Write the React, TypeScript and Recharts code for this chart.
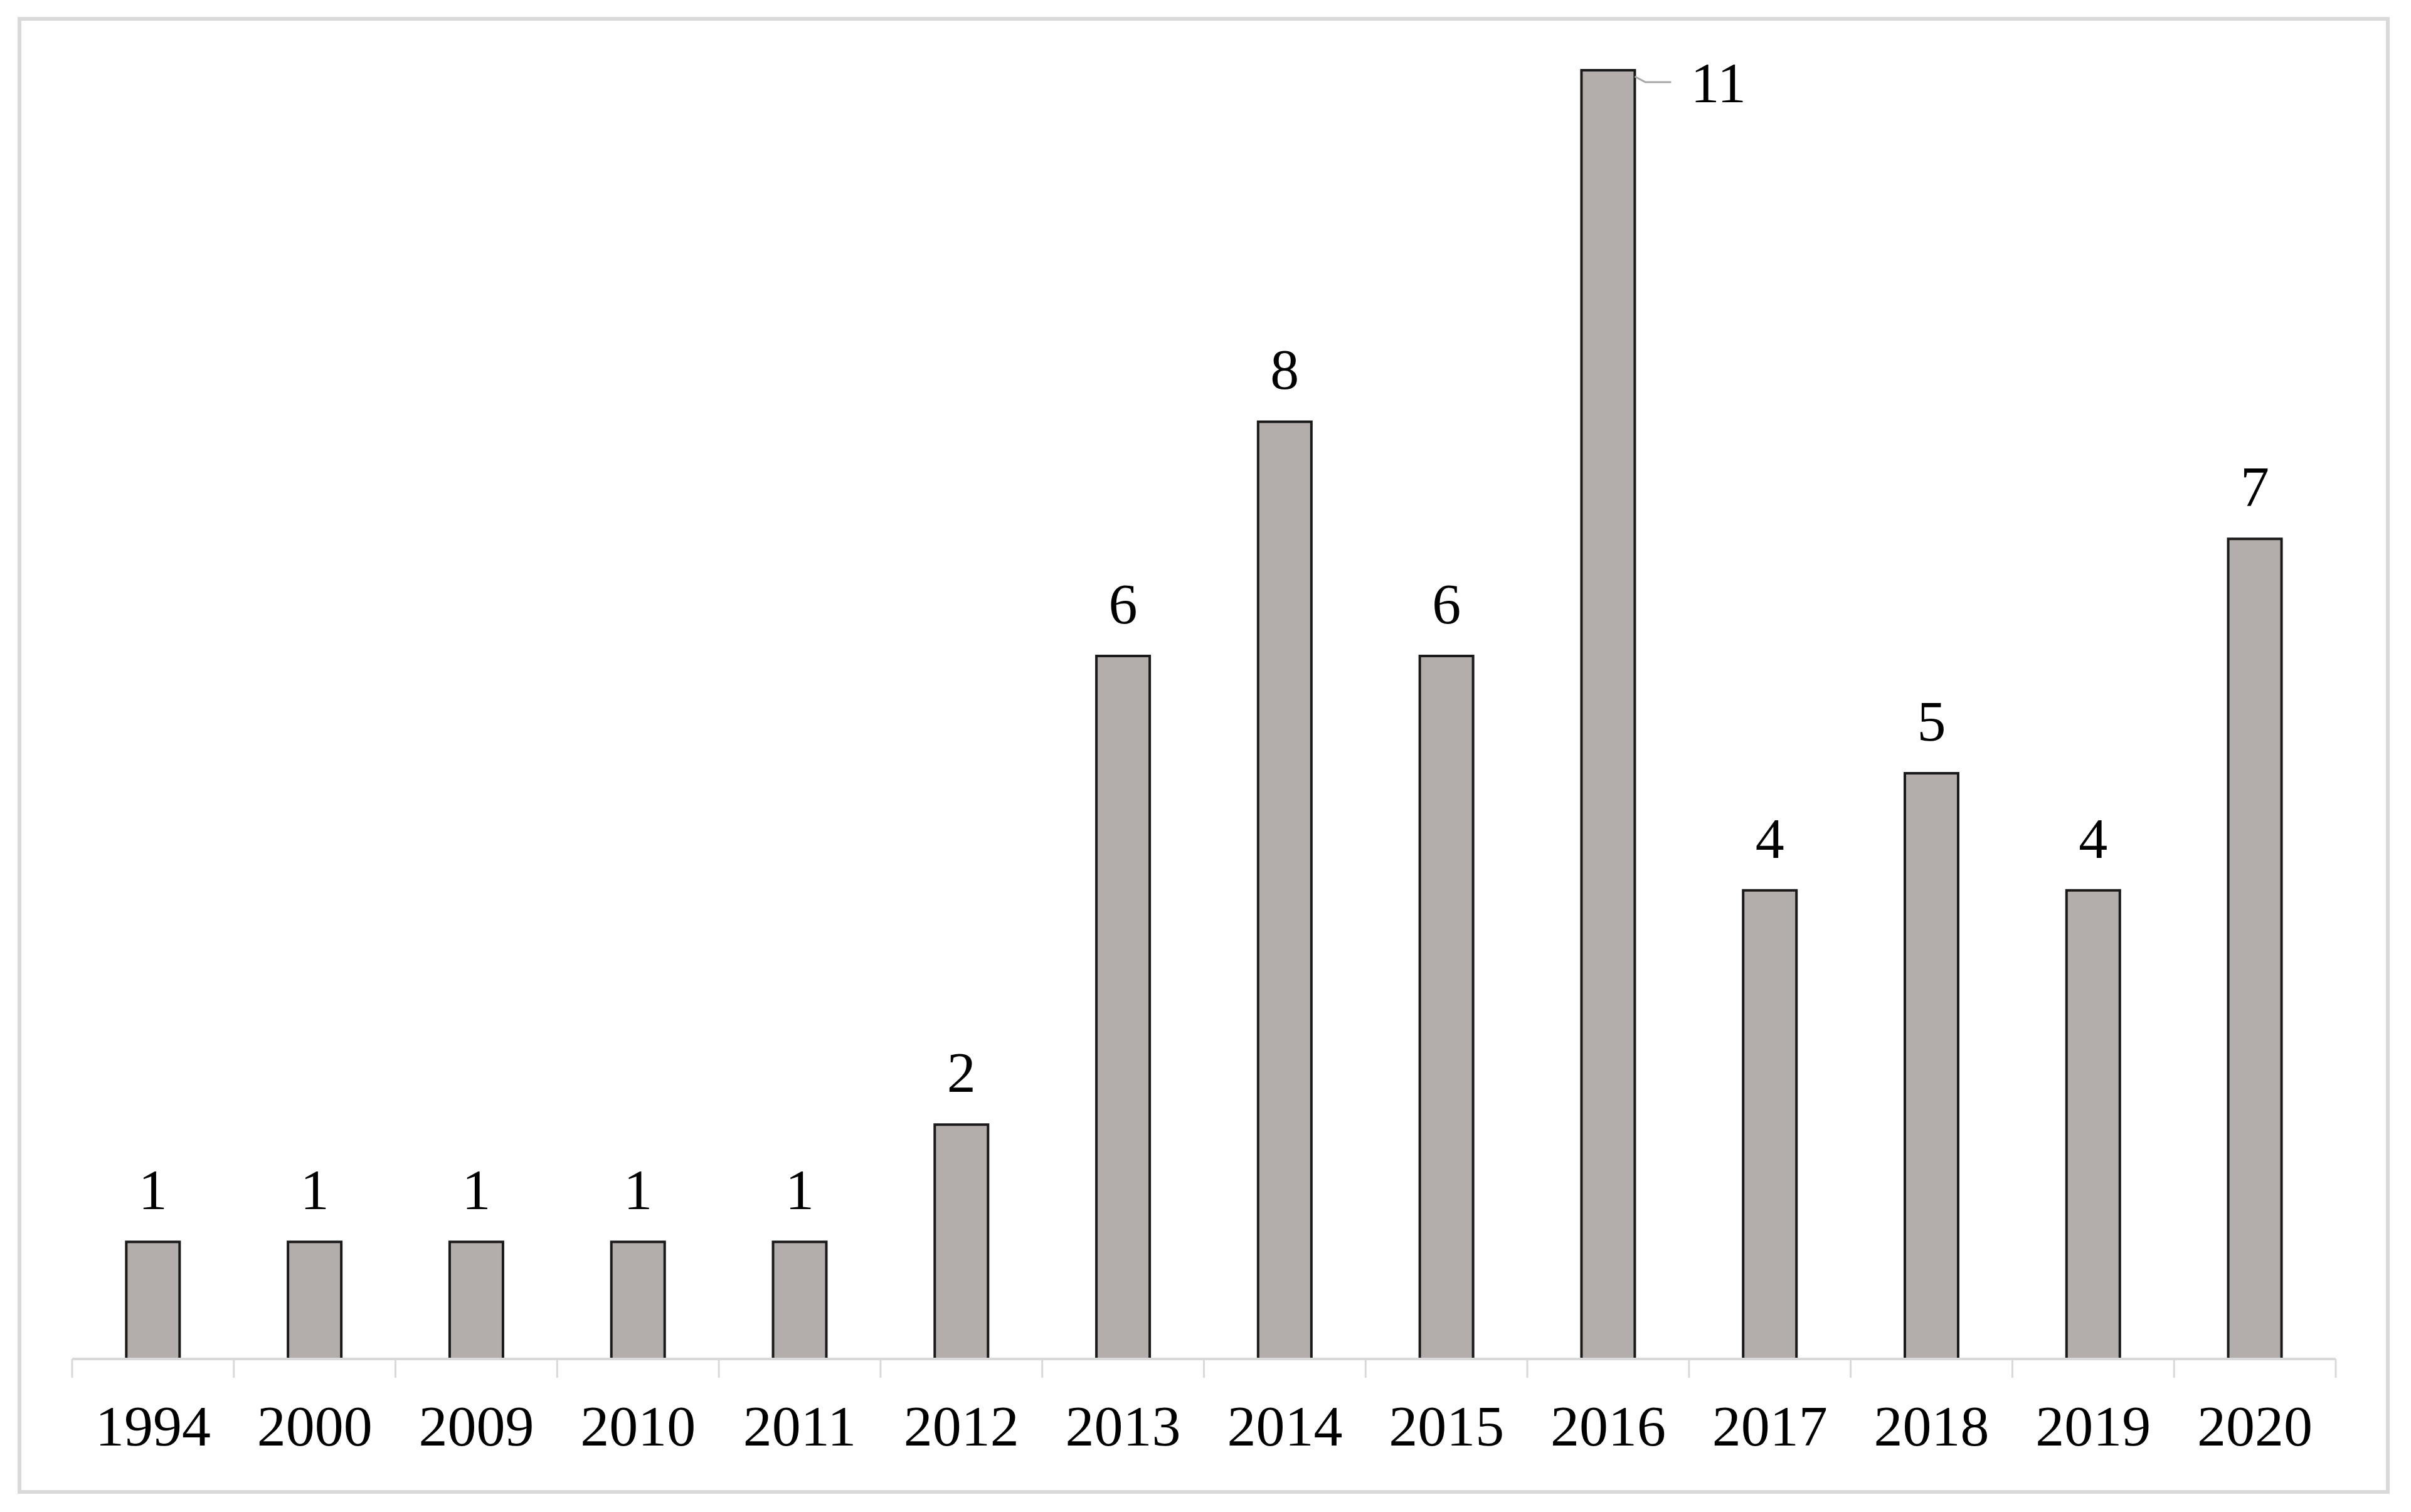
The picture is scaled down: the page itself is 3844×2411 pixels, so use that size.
import { BarChart, Bar, XAxis, YAxis, LabelList } from 'recharts';

const years = ['1994', '2000', '2009', '2010', '2011', '2012', '2013', '2014', '2015', '2016', '2017', '2018', '2019', '2020'];
const counts = [1, 1, 1, 1, 1, 2, 6, 8, 6, 11, 4, 5, 4, 7];

const data = years.map((year, i) => ({ year, count: counts[i] }));

const FONT = '"Liberation Serif", "Times New Roman", serif';
const FONT_SIZE = 92;
const GRID = '#d9d9d9';
const TICK_LEN = 30;
const TICK_GAP = 43;

// Excel-style: tick marks sit on the category boundaries, not under the bars
function YearTick(props: any) {
  const { x, y, payload, index, visibleTicksCount } = props;
  const half = payload.offset || 0;
  const axisY = y - TICK_LEN - TICK_GAP;
  const last = index === visibleTicksCount - 1;
  return (
    <g>
      <line x1={x - half} x2={x - half} y1={axisY} y2={axisY + TICK_LEN} stroke={GRID} strokeWidth={3} />
      {last && (
        <line x1={x + half} x2={x + half} y1={axisY} y2={axisY + TICK_LEN} stroke={GRID} strokeWidth={3} />
      )}
      <text x={x} y={y} dy="0.71em" textAnchor="middle" fontFamily={FONT} fontSize={FONT_SIZE} fill="#000">
        {payload.value}
      </text>
    </g>
  );
}

function ValueLabel(props: any) {
  const { x, y, width, value } = props;
  // not enough room above the bar: put the label to the right with a leader line
  if (y - 52 - 70 < 30) {
    const x0 = x + width;
    return (
      <g>
        <polyline
          points={`${x0},${y + 10} ${x0 + 17},${y + 19} ${x0 + 58},${y + 19}`}
          stroke="#a6a6a6"
          strokeWidth={3}
          fill="none"
        />
        <text x={x0 + 89} y={y + 51} fontFamily={FONT} fontSize={FONT_SIZE} fill="#000">
          {value}
        </text>
      </g>
    );
  }
  return (
    <text x={x + width / 2} y={y - 52} textAnchor="middle" fontFamily={FONT} fontSize={FONT_SIZE} fill="#000">
      {value}
    </text>
  );
}

export default function App() {
  return (
    <div style={{ position: 'absolute', left: 0, top: 0, width: 3844, height: 2411, background: '#fff' }}>
      <div
        style={{
          position: 'absolute',
          left: 28,
          top: 27,
          width: 3782,
          height: 2355,
          border: `6px solid ${GRID}`,
          boxSizing: 'border-box',
        }}
      />
      <div style={{ position: 'absolute', left: 0, top: 0 }}>
        <BarChart
          width={3844}
          height={2411}
          data={data}
          margin={{ top: 112, right: 120, bottom: 0, left: 115 }}
          barCategoryGap="33.5%"
        >
          <XAxis
            dataKey="year"
            height={244}
            axisLine={{ stroke: GRID, strokeWidth: 4 }}
            tickLine={false}
            tickSize={TICK_LEN}
            tickMargin={TICK_GAP}
            interval={0}
            tick={<YearTick />}
          />
          <YAxis hide domain={[0, 'dataMax']} />
          <Bar dataKey="count" fill="#b3aeab" stroke="#1a1a1a" strokeWidth={4} isAnimationActive={false}>
            <LabelList dataKey="count" content={ValueLabel} />
          </Bar>
        </BarChart>
      </div>
    </div>
  );
}
